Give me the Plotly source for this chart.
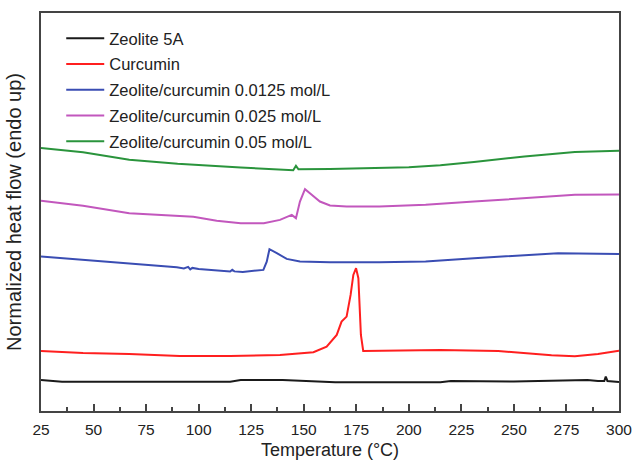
import plotly.graph_objects as go

# Temperature (°C) and normalized heat flow (arbitrary units, endo up)
zeolite_T = [25, 35, 115, 120, 140, 155, 165, 215, 220, 250, 265, 285, 290, 293, 293.7, 294.5, 300]
zeolite_v = [3.1, 2.93, 2.93, 3.1, 3.1, 3.0, 2.87, 2.87, 3.0, 2.95, 3.03, 3.1, 3.0, 3.0, 3.43, 3.0, 2.9]

curcumin_T = [25, 45, 67, 91, 115, 138.7, 154.6, 160.9, 165.7, 168, 170.4, 172.3, 173.6, 174.9,
              176, 177.2, 178.3, 186, 215, 242.5, 255.2, 267.9, 279, 290, 300]
curcumin_v = [6.0, 5.8, 5.7, 5.5, 5.5, 5.6, 5.87, 6.43, 7.6, 8.93, 9.43, 11.6, 13.6, 14.27,
              13.27, 7.6, 6.0, 6.03, 6.1, 6.0, 5.77, 5.57, 5.47, 5.7, 6.03]

z0125_T = [25, 45, 67, 89.6, 93, 95, 96, 97, 100, 105.5, 115, 116, 117, 121, 130.8, 132.4, 133.7,
           137.2, 141.9, 148.2, 162.5, 186, 208, 231, 255, 271, 300]
z0125_v = [15.43, 15.1, 14.77, 14.37, 14.25, 14.4, 14.15, 14.3, 14.2, 14.1, 13.93, 14.12, 13.95, 13.9,
           14.1, 14.93, 16.17, 15.77, 15.2, 14.93, 14.87, 14.87, 14.93, 15.27, 15.53, 15.77, 15.7]

z025_T = [25, 45, 67, 85, 95.5, 96.5, 97.5, 108.6, 120, 131, 138.7, 144.3, 146.3, 148.2, 150.6,
          153.8, 157.7, 162.5, 170.4, 186, 208, 231, 255, 279, 300]
z025_v = [21.0, 20.5, 19.77, 19.55, 19.42, 19.48, 19.40, 19.0, 18.77, 18.77, 19.1, 19.6, 19.27, 20.93,
          22.17, 21.6, 20.93, 20.53, 20.43, 20.43, 20.6, 20.93, 21.27, 21.6, 21.63]

z05_T = [25, 45, 67, 90, 120, 140, 143.5, 145, 146.3, 147.5, 162.5, 186, 200, 215, 231, 255, 279, 300]
z05_v = [26.27, 25.85, 25.10, 24.70, 24.33, 24.10, 24.03, 24.05, 24.50, 24.15, 24.17, 24.27, 24.35,
         24.55, 24.87, 25.43, 25.87, 26.00]

series = [
    ("Zeolite 5A", zeolite_T, zeolite_v, "#1a1a1a"),
    ("Curcumin", curcumin_T, curcumin_v, "#ff1f1f"),
    ("Zeolite/curcumin 0.0125 mol/L", z0125_T, z0125_v, "#3a4db3"),
    ("Zeolite/curcumin 0.025 mol/L", z025_T, z025_v, "#c257bd"),
    ("Zeolite/curcumin 0.05 mol/L", z05_T, z05_v, "#2a943c"),
]

x_ticks = [25, 50, 75, 100, 125, 150, 175, 200, 225, 250, 275, 300]

FONT = "Arial, Liberation Sans, sans-serif"
TXT = "#222222"

fig = go.Figure()
for i, (name, T, v, c) in enumerate(series):
    fig.add_trace(go.Scatter(x=T, y=v, mode="lines", name=name, legendgroup=f"g{i}",
                             line=dict(color=c, width=2)))

fig.update_layout(
    template="none",
    width=633, height=462,
    margin=dict(l=41, r=14, t=13, b=51, autoexpand=False),
    paper_bgcolor="white", plot_bgcolor="white",
    font=dict(family=FONT, color=TXT),
    showlegend=True,
    legend=dict(x=0.035, y=0.980, xanchor="left", yanchor="top",
                bgcolor="rgba(0,0,0,0)", font=dict(size=16.5, family=FONT, color=TXT),
                itemwidth=38, tracegroupgap=1.3, traceorder="grouped"),
    xaxis=dict(range=[25, 300], tickmode="array", tickvals=x_ticks,
               ticktext=[str(t) for t in x_ticks], automargin=False,
               ticks="inside", ticklen=7, tickwidth=1.5, tickcolor="#444",
               minor=dict(ticks="inside", ticklen=4, tickwidth=1.5, tickcolor="#444",
                          tickmode="array", tickvals=[37.5 + 25 * i for i in range(11)]),
               showline=True, linecolor="#444", linewidth=1.5, mirror=True,
               showgrid=False, zeroline=False,
               tickfont=dict(size=15.5, family=FONT, color=TXT),
               ticklabelstandoff=4,
               title=dict(text="Temperature (°C)", font=dict(size=18, family=FONT, color=TXT),
                          standoff=6)),
    yaxis=dict(range=[0, 39.77], showticklabels=False, ticks="", automargin=False,
               showline=True, linecolor="#444", linewidth=1.5, mirror=True,
               showgrid=False, zeroline=False,
               title=dict(text="Normalized heat flow (endo up)",
                          font=dict(size=20, family=FONT, color=TXT), standoff=12)),
)

fig.write_html("out.html")
